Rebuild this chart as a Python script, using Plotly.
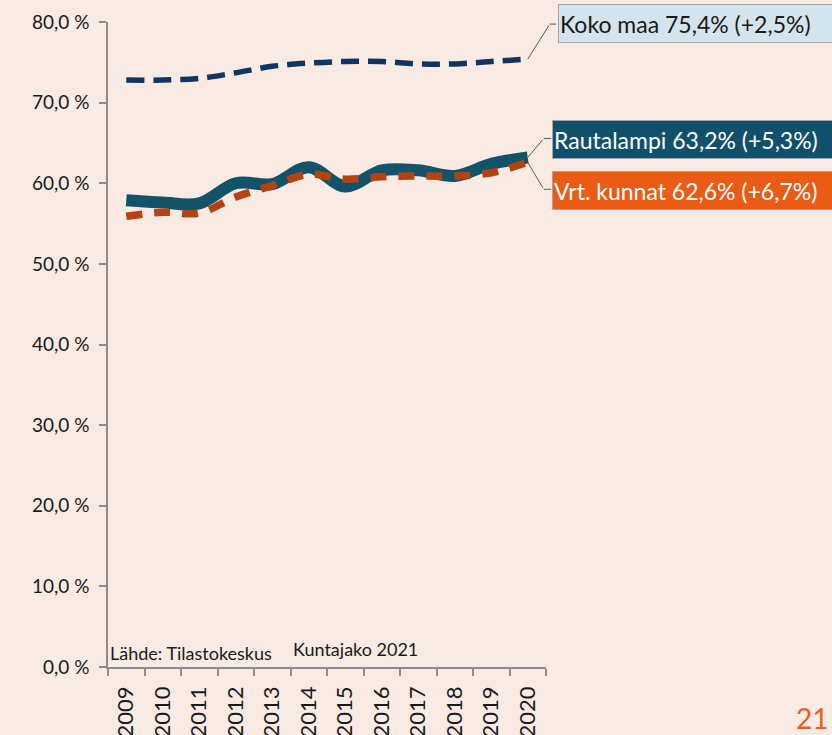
import plotly.graph_objects as go

years = [str(y) for y in range(2009, 2021)]
koko_maa = [72.8, 72.8, 73.0, 73.7, 74.5, 74.9, 75.1, 75.1, 74.8, 74.8, 75.1, 75.4]
rautalampi = [57.9, 57.6, 57.5, 60.0, 59.9, 62.0, 59.6, 61.6, 61.6, 60.9, 62.4, 63.2]
vrt_kunnat = [55.9, 56.4, 56.3, 58.3, 59.7, 61.1, 60.5, 60.8, 60.9, 60.9, 61.3, 62.6]

labels = ["Koko maa 75,4% (+2,5%)", "Rautalampi 63,2% (+5,3%)", "Vrt. kunnat 62,6% (+6,7%)"]

BG = "#F9EAE4"
FONT = "Lato"

fig = go.Figure()
fig.add_trace(go.Scatter(x=years, y=koko_maa, mode="lines",
                         line=dict(color="#0F3560", width=5.5, dash="18px,9px", shape="spline", smoothing=1.0),
                         hoverinfo="skip"))
fig.add_trace(go.Scatter(x=years, y=rautalampi, mode="lines",
                         line=dict(color="#12536A", width=12, shape="spline", smoothing=1.0),
                         hoverinfo="skip"))
fig.add_trace(go.Scatter(x=years, y=vrt_kunnat, mode="lines",
                         line=dict(color="#B5430F", width=7.5, dash="16px,12px", shape="spline", smoothing=1.0),
                         hoverinfo="skip"))

fig.update_layout(
    width=832, height=735,
    paper_bgcolor=BG, plot_bgcolor=BG,
    margin=dict(l=108, r=286, t=22, b=68),
    showlegend=False,
    separators=", ",
    font=dict(family=FONT, color="#1a1a1a"),
)
fig.update_yaxes(range=[0, 80], dtick=10, tickformat=".1f", ticksuffix=" %",
                 showgrid=False, zeroline=False, automargin=False,
                 showline=True, linecolor="#8c8c8c", linewidth=1.5,
                 ticks="outside", ticklen=7, tickcolor="#8c8c8c", tickwidth=1.5,
                 ticklabelstandoff=6,
                 tickfont=dict(size=19, family=FONT, color="#1a1a1a"))
fig.update_xaxes(type="category", showgrid=False, tickangle=-90, tickson="boundaries",
                 range=[-0.5, len(years) - 0.5], automargin=False,
                 showline=True, linecolor="#8c8c8c", linewidth=1.5,
                 ticks="outside", ticklen=7, tickcolor="#8c8c8c", tickwidth=1.5,
                 ticklabelstandoff=9,
                 tickfont=dict(size=22, family=FONT, color="#1a1a1a"))

# label boxes
boxes = [
    (labels[0], 1.0274, 0.9969, "#D3E4EC", "#1a1a1a"),
    (labels[1], 1.0137, 0.8175, "#11506A", "#ffffff"),
    (labels[2], 1.0137, 0.7387, "#EA5B16", "#ffffff"),
]
for text, xp, yp, bg, fc in boxes:
    fig.add_annotation(xref="paper", yref="paper", x=xp, y=yp, xanchor="left", yanchor="middle",
                       text=text, showarrow=False, align="left", width=300, height=35,
                       bgcolor=bg, bordercolor="#a6a6a6", borderwidth=1, borderpad=1,
                       font=dict(size=23, family=FONT, color=fc))

# leader lines (elbow) anchored at the last data points
last = len(years) - 1
leaders = [(koko_maa[-1], 22, -35, 8), (rautalampi[-1], 16, -19, 9), (vrt_kunnat[-1], 16, 27, 9)]
for val, dx, dy, h in leaders:
    fig.add_annotation(x=last, y=val, xref="x", yref="y", text="", showarrow=True,
                       arrowhead=0, arrowwidth=1, arrowcolor="#595959", ax=dx, ay=dy, standoff=0)
    fig.add_annotation(x=last, y=val, xref="x", yref="y", text="", showarrow=True,
                       xshift=dx, yshift=-dy, arrowhead=0, arrowwidth=1, arrowcolor="#595959",
                       ax=h, ay=0, standoff=0)

fig.add_annotation(xref="paper", yref="paper", x=0.0, y=0.002, xanchor="left", yanchor="bottom",
                   text="Lähde: Tilastokeskus", showarrow=False,
                   font=dict(size=18, family=FONT, color="#1a1a1a"))
fig.add_annotation(xref="paper", yref="paper", x=0.418, y=0.008, xanchor="left", yanchor="bottom",
                   text="Kuntajako 2021", showarrow=False,
                   font=dict(size=18, family=FONT, color="#1a1a1a"))
fig.add_annotation(xref="paper", yref="paper", x=1.0, y=0.0, xanchor="right", yanchor="bottom",
                   xshift=284, yshift=-70,
                   text="21", showarrow=False,
                   font=dict(size=28, family=FONT, color="#E8601C"))

fig.write_html("out.html", config={"displayModeBar": False},
               post_script="document.body.style.margin='0';")
